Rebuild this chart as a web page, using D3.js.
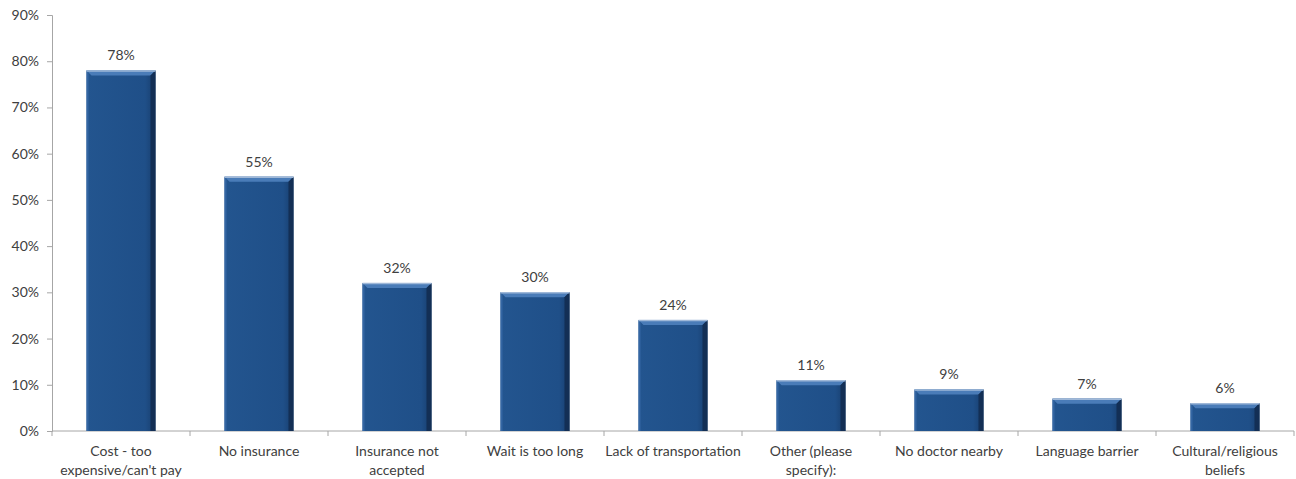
<!DOCTYPE html>
<html>
<head>
  <script src="https://d3js.org/d3.v7.min.js"></script>
  <style>
    body { margin: 0; background: #fff; }
    text { font-family: Lato, "Open Sans", sans-serif; fill: #404040; }
    .axis path, .axis line { stroke: #a6a6a6; }
  </style>
</head>
<body>
  <div id="chart"></div>
  <script>
    var categories = [
      ["Cost - too", "expensive/can't pay"],
      ["No insurance"],
      ["Insurance not", "accepted"],
      ["Wait is too long"],
      ["Lack of transportation"],
      ["Other (please", "specify):"],
      ["No doctor nearby"],
      ["Language barrier"],
      ["Cultural/religious", "beliefs"]
    ];
    var values = [0.78, 0.55, 0.32, 0.30, 0.24, 0.11, 0.09, 0.07, 0.06];
    var yTicks = [0, 0.1, 0.2, 0.3, 0.4, 0.5, 0.6, 0.7, 0.8, 0.9];

    var w = 1296, h = 479;
    var padLeft = 52, padRight = 1294, padTop = 15, padBottom = 431;

    var svg = d3.select("#chart").append("svg")
      .attr("width", w).attr("height", h);

    var keys = categories.map((c, i) => i);
    var x = d3.scaleBand().domain(keys).range([padLeft, padRight]).paddingInner(0.5).paddingOuter(0.25);
    var y = d3.scaleLinear().domain([0, 0.9]).range([padBottom, padTop]);

    // y axis
    var yAxis = svg.append("g").attr("class", "axis")
      .attr("transform", `translate(${padLeft},0)`)
      .call(d3.axisLeft(y).tickValues(yTicks).tickFormat(d3.format(".0%")).tickSize(5).tickPadding(8));
    yAxis.selectAll("text").style("font-size", "14px").style("fill", "#404040");

    // x axis line + ticks at band boundaries
    var xg = svg.append("g").attr("class", "axis");
    xg.append("line").attr("x1", padLeft).attr("x2", padRight).attr("y1", padBottom).attr("y2", padBottom);
    var step = x.step();
    d3.range(categories.length + 1).forEach(function(i) {
      var xx = padLeft + i * step;
      xg.append("line").attr("x1", xx).attr("x2", xx).attr("y1", padBottom).attr("y2", padBottom + 5);
    });

    var defs = svg.append("defs");
    var grad = defs.append("linearGradient").attr("id", "face").attr("x1", 0).attr("x2", 1);
    grad.append("stop").attr("offset", "0%").attr("stop-color", "#23558f");
    grad.append("stop").attr("offset", "85%").attr("stop-color", "#1f4f88");
    grad.append("stop").attr("offset", "100%").attr("stop-color", "#173d6c");

    var bars = svg.selectAll(".bar").data(values).enter().append("g").attr("class", "bar");
    var bev = 5;
    bars.each(function(d, i) {
      var g = d3.select(this);
      var x0 = x(i), bw = x.bandwidth(), y0 = y(d), y1 = y(0);
      g.append("rect").attr("x", x0).attr("y", y0).attr("width", bw).attr("height", y1 - y0)
        .attr("fill", "url(#face)");
      // top bevel
      g.append("polygon")
        .attr("points", [[x0, y0], [x0 + bw, y0], [x0 + bw - bev, y0 + bev], [x0 + bev, y0 + bev]].join(" "))
        .attr("fill", "#4a7cb8");
      // left bevel
      g.append("polygon")
        .attr("points", [[x0, y0], [x0 + 2, y0 + 2], [x0 + 2, y1], [x0, y1]].join(" "))
        .attr("fill", "#3466a3");
      // right bevel
      g.append("polygon")
        .attr("points", [[x0 + bw, y0], [x0 + bw, y1], [x0 + bw - bev, y1], [x0 + bw - bev, y0 + bev]].join(" "))
        .attr("fill", "#132f55");
      // light top edge
      g.append("line").attr("x1", x0).attr("x2", x0 + bw).attr("y1", y0 + 0.5).attr("y2", y0 + 0.5)
        .attr("stroke", "#9fb8d8").attr("stroke-width", 1.5);
      g.append("text").attr("x", x0 + bw / 2).attr("y", y0 - 10)
        .attr("text-anchor", "middle").style("font-size", "14px")
        .text(d3.format(".0%")(d));
    });

    // category labels
    svg.selectAll(".cat").data(categories).enter().append("text")
      .attr("class", "cat")
      .attr("text-anchor", "middle")
      .style("font-size", "14px")
      .each(function(lines, i) {
        var t = d3.select(this);
        lines.forEach(function(l, j) {
          t.append("tspan").attr("x", x(i) + x.bandwidth() / 2).attr("y", 456 + j * 19).text(l);
        });
      });
  </script>
</body>
</html>
